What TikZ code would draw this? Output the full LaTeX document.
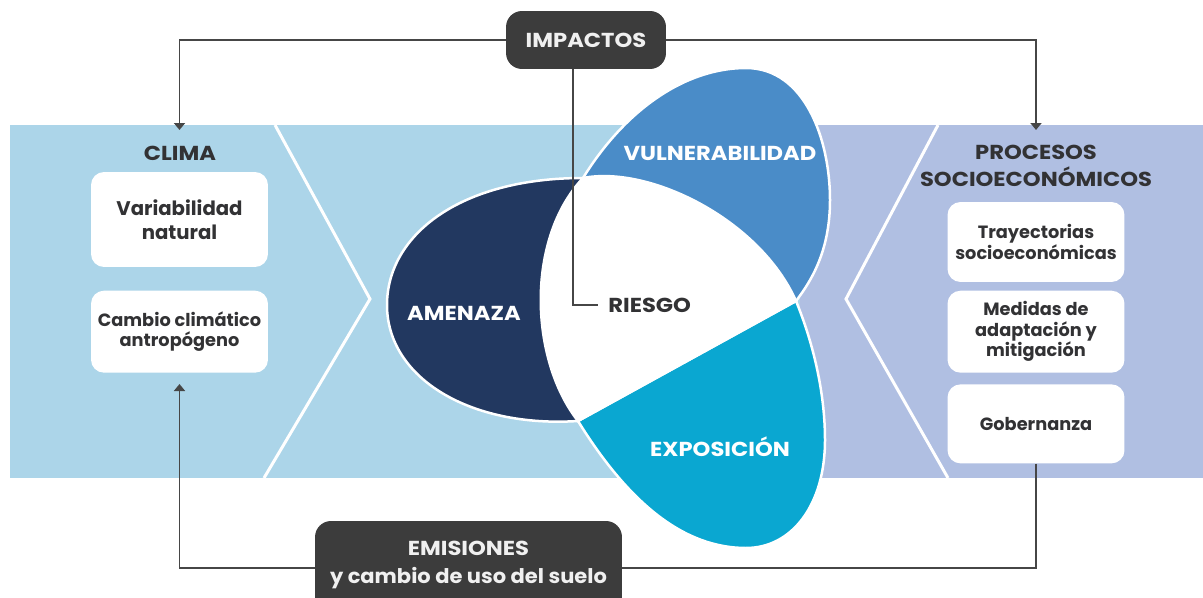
\documentclass[tikz,border=0pt]{standalone}
\usepackage{fontspec}
\setmainfont{Poppins}
\usetikzlibrary{positioning, arrows.meta}

\definecolor{bandblue}{RGB}{172,213,233}
\definecolor{lavender}{RGB}{176,191,226}
\definecolor{navy}{RGB}{34,56,96}
\definecolor{vulblue}{RGB}{74,140,200}
\definecolor{expcyan}{RGB}{10,167,209}
\definecolor{boxgray}{RGB}{60,60,60}
\definecolor{textgray}{RGB}{50,50,52}
\definecolor{linegray}{RGB}{70,70,70}

\newcommand\titlefont{\bfseries\fontsize{11.5}{15.3}\selectfont\addfontfeature{FakeStretch=1.12}}
\newcommand\boxfont{\bfseries\fontsize{10.1}{11.6}\selectfont}
\newcommand\bigboxfont{\bfseries\fontsize{11.2}{13.6}\selectfont}
\newcommand\emifont{\bfseries\fontsize{11.5}{16}\selectfont\addfontfeature{FakeStretch=1.04}}

\tikzset{
  conn/.style={draw=linegray, line width=1pt},
  arr/.style={conn, -{Triangle[width=2.2mm,length=1.4mm]}},
  whitebox/.style={fill=white, rounded corners=0.26cm, minimum width=3.54cm,
    align=center, font=\boxfont, text=textgray, inner sep=2pt},
  darkbox/.style={fill=boxgray, rounded corners=0.32cm, align=center,
    text=white!94!black, font=\titlefont},
  petal/.style={draw=white, line width=0.05cm},
  title/.style={font=\titlefont, text=textgray, align=center},
  petaltext/.style={font=\titlefont, text=white},
  chevron/.style={draw=white, line width=0.06cm}
}

\begin{document}
\begin{tikzpicture}[x=0.02cm, y=-0.02cm]
    \useasboundingbox (0,0) rectangle (1203,598);

    % bands
    \fill[bandblue] (10,125) rectangle (1203,478);
    \fill[lavender] (800,125) rectangle (1203,478);
    \draw[chevron] (275,125) -- (370,299) -- (264,478);
    \draw[chevron] (938,125) -- (846,299) -- (948,478);

    % petals
    \coordinate (ptop) at (583,178);
    \coordinate (pright) at (796,301);
    \coordinate (pbot) at (578,421);
    \path[petal, fill=navy] (ptop) .. controls (460,178) and (387,235) .. (387,305)
        .. controls (387,378) and (470,428) .. (pbot) -- cycle;
    \path[petal, fill=vulblue] (ptop) .. controls (625,110) and (685,68) .. (746,68)
        .. controls (805,68) and (830,140) .. (830,200)
        .. controls (830,250) and (812,280) .. (pright) -- cycle;
    \path[petal, fill=expcyan] (pright) .. controls (812,340) and (825,390) .. (825,440)
        .. controls (825,505) and (792,548) .. (746,548)
        .. controls (685,548) and (630,505) .. (pbot) -- cycle;
    \path[petal, fill=white] (ptop) .. controls (650,165) and (760,220) .. (pright)
        -- (pbot) .. controls (530,360) and (525,240) .. (ptop) -- cycle;

    \node[petaltext] (amenaza) at (464,313) {AMENAZA};
    \node[petaltext] (vuln) at (720,153) {VULNERABILIDAD};
    \node[petaltext] (expo) at (720,447) {EXPOSICIÓN};
    \node[title, anchor=west, inner sep=0.2cm] (riesgo) at (598,305) {RIESGO};

    % left column
    \node[title] (clima) at (180,153) {CLIMA};
    \node[whitebox, font=\bigboxfont, minimum height=1.9cm] (var) at (179.5,219.5) {Variabilidad\\natural};
    \node[whitebox, minimum height=1.64cm, below=0.46cm of var] (cam) {Cambio climático\\antropógeno};

    % right column
    \node[title] (proc) at (1036,166) {PROCESOS\\SOCIOECONÓMICOS};
    \node[whitebox, minimum height=1.6cm] (tray) at (1036,242) {Trayectorias\\socioeconómicas};
    \node[whitebox, minimum height=1.64cm, below=0.16cm of tray] (med) {Medidas de\\adaptación y\\mitigación};
    \node[whitebox, minimum height=1.58cm, below=0.22cm of med] (gob) {Gobernanza};

    % dark boxes
    \node[darkbox, minimum width=3.2cm, minimum height=1.16cm] (imp) at (586,40) {IMPACTOS};
    \node[darkbox, font=\emifont, minimum width=6.14cm, minimum height=1.88cm] (emi) at (468.5,568)
        {{\titlefont EMISIONES}\\y cambio de uso del suelo\rule[-6.5pt]{0pt}{1pt}};

    \coordinate (climain) at (179.5,130);
    \coordinate (procin) at (1036,130);

    \draw[arr] (imp.west) -| (climain);
    \draw[arr] (imp.east) -| (procin);
    \draw[conn] ([xshift=-0.26cm]imp.south) |- (riesgo.west);
    \draw[arr] (emi.west) -| ([yshift=-0.22cm]cam.south);
    \draw[conn] (gob.south) |- (emi.east);
\end{tikzpicture}
\end{document}
